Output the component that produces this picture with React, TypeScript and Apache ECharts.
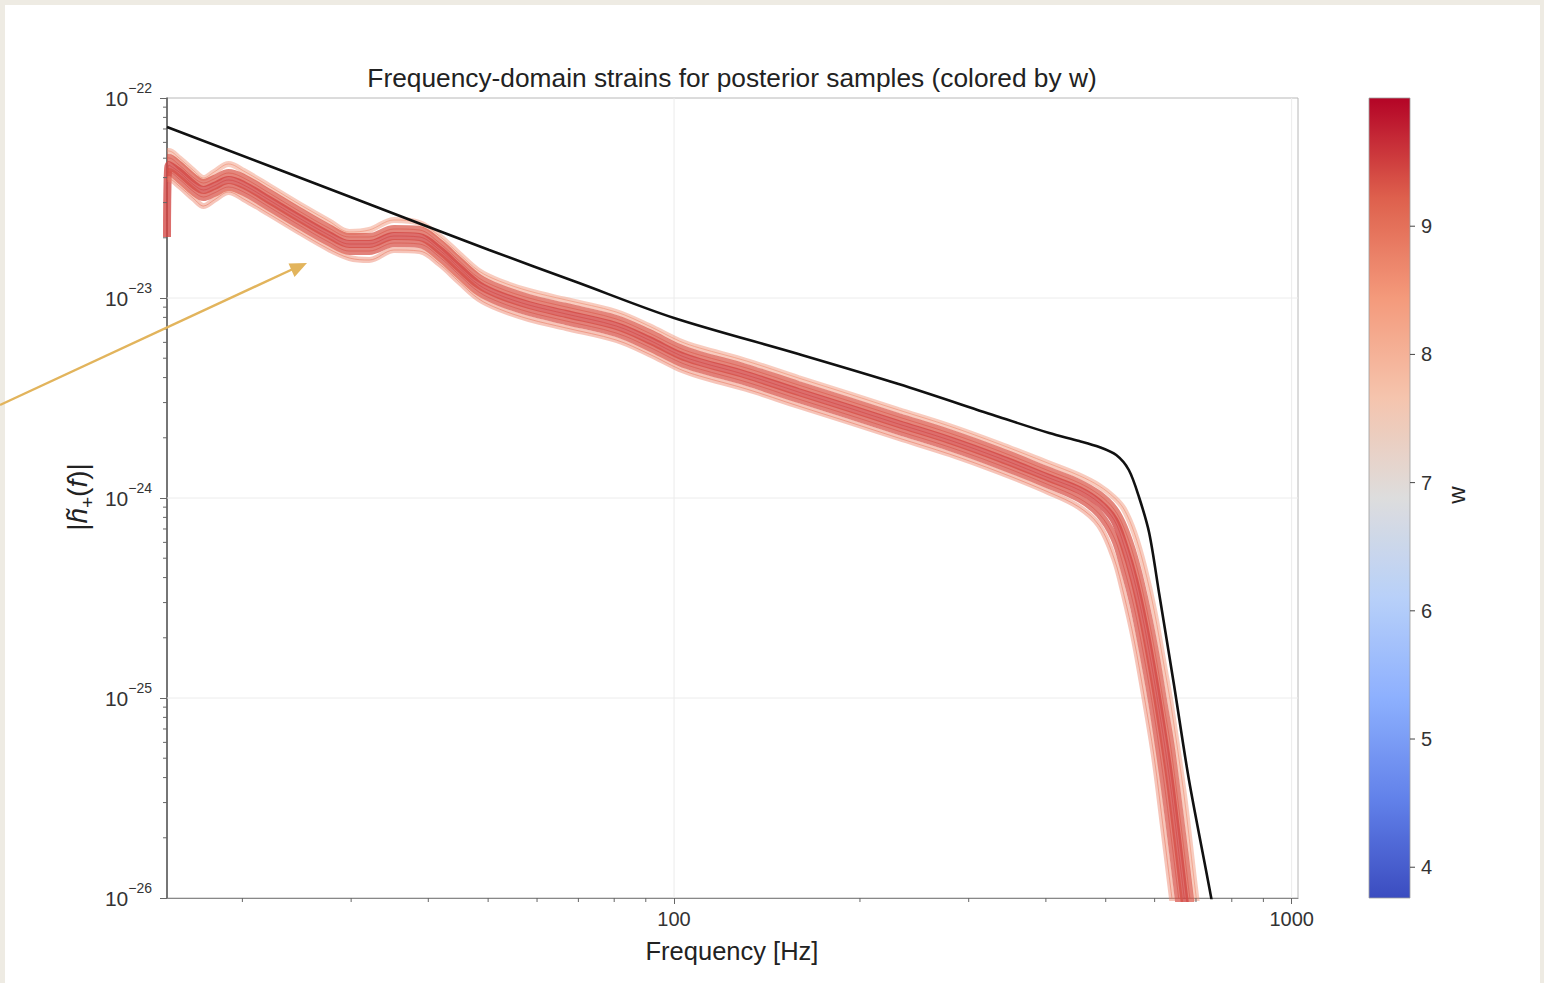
import React, { useEffect, useRef } from 'react';
import * as echarts from 'echarts';

// Shared frequency grid (Hz) for the posterior sample curves
const FREQ_HZ = [15.1, 15.2, 15.8, 16.7, 17.3, 18.0, 19.0, 20.1, 22.1, 24.7, 27.6, 29.8, 32.1, 35.2, 38.7, 41.7, 44.9, 48.3, 52.1, 58.2, 66.9, 80.6, 91.1, 102, 110, 131, 159, 192, 231, 279, 336, 405, 453, 488, 516, 535, 556, 577, 599, 621, 638, 670, 695, 749];

// log10 |h+(f)| of individual posterior samples
const SAMPLE_A = [-22.265, -22.265, -22.30, -22.365, -22.40, -22.37, -22.33, -22.365, -22.44, -22.53, -22.615, -22.67, -22.66, -22.61, -22.625, -22.69, -22.78, -22.865, -22.915, -22.965, -23.01, -23.07, -23.14, -23.215, -23.25, -23.315, -23.40, -23.48, -23.56, -23.64, -23.73, -23.828, -23.888, -23.94, -23.998, -24.055, -24.173, -24.343, -24.563, -24.833, -25.04, -25.493, -25.909, -26.729];
const SAMPLE_B = [-22.30, -22.30, -22.335, -22.40, -22.425, -22.405, -22.375, -22.40, -22.475, -22.565, -22.65, -22.695, -22.695, -22.655, -22.66, -22.725, -22.815, -22.90, -22.95, -23.00, -23.045, -23.105, -23.175, -23.25, -23.285, -23.35, -23.435, -23.515, -23.595, -23.675, -23.765, -23.865, -23.925, -23.984, -24.057, -24.148, -24.298, -24.498, -24.748, -25.035, -25.257, -25.768, -26.18, -27.0];
const SAMPLE_C = [-22.695, -22.335, -22.37, -22.435, -22.46, -22.44, -22.41, -22.435, -22.51, -22.60, -22.685, -22.73, -22.73, -22.69, -22.695, -22.76, -22.85, -22.935, -22.985, -23.035, -23.08, -23.14, -23.21, -23.285, -23.32, -23.385, -23.47, -23.55, -23.63, -23.71, -23.80, -23.90, -23.96, -24.025, -24.11, -24.235, -24.41, -24.635, -24.91, -25.21, -25.46, -26.0, -26.41, -27.23];
const SAMPLE_D = [-22.37, -22.37, -22.405, -22.47, -22.495, -22.475, -22.445, -22.47, -22.545, -22.635, -22.72, -22.765, -22.765, -22.725, -22.73, -22.795, -22.885, -22.97, -23.02, -23.07, -23.115, -23.175, -23.245, -23.32, -23.355, -23.42, -23.505, -23.585, -23.665, -23.745, -23.835, -23.935, -24.002, -24.079, -24.198, -24.348, -24.548, -24.798, -25.085, -25.414, -25.693, -26.23, -26.64, -27.46];
const SAMPLE_E = [-22.405, -22.405, -22.44, -22.505, -22.54, -22.51, -22.47, -22.505, -22.58, -22.67, -22.755, -22.80, -22.81, -22.76, -22.765, -22.83, -22.92, -23.005, -23.055, -23.105, -23.15, -23.21, -23.28, -23.355, -23.39, -23.455, -23.54, -23.62, -23.70, -23.78, -23.87, -23.972, -24.046, -24.138, -24.303, -24.483, -24.713, -24.99, -25.296, -25.676, -25.967, -26.501, -26.911, -27.731];

// w value of each sample (drives its colour)
const SAMPLE_W = [8.6, 9.3, 9.45, 9.35, 8.8];

// Reference waveform (black curve)
const REF_FREQ_HZ = [15.1, 30, 50.2, 70, 100, 159, 231, 336, 405, 453, 488, 520, 545, 566, 588, 610, 645, 682, 741, 792];
const REF_LOG_STRAIN = [-22.145, -22.496, -22.76, -22.924, -23.10, -23.28, -23.43, -23.595, -23.675, -23.715, -23.745, -23.785, -23.86, -23.995, -24.175, -24.475, -24.935, -25.41, -26.0, -26.51];

// Axis definitions (both axes are logarithmic; plotted in log10 units)
const X_MIN_HZ = 15.1;
const X_MAX_HZ = 1024;
const X_MAJOR_HZ = [100, 1000];
const X_MINOR_HZ = [20, 30, 40, 50, 60, 70, 80, 90, 200, 300, 400, 500, 600, 700, 800, 900];
const Y_MIN_EXP = -26;
const Y_MAX_EXP = -22;
const Y_DECADES = [-26, -25, -24, -23];
const Y_MINOR_MULTIPLIERS = [2, 3, 4, 5, 6, 7, 8, 9];
const Y_GRID_EXP = [-25, -24, -23];
const W_TICKS = [4, 5, 6, 7, 8, 9];
const W_MIN = 3.76;
const W_MAX = 10.0;

// coolwarm colour map, evenly spaced stops
const COOLWARM = ['#3b4cc0', '#6282ea', '#8db0fe', '#b8d0f9', '#dddddd', '#f5c4ad', '#f49a7b', '#de604d', '#b40426'];

const FONT = '"Liberation Sans", Arial, Helvetica, sans-serif';
const lg = (v: number) => Math.log10(v);

function wColor(w: number): string {
  const t = Math.min(1, Math.max(0, (w - W_MIN) / (W_MAX - W_MIN)));
  return echarts.color.lerp(t, COOLWARM) as string;
}

export default function App() {
  const ref = useRef<HTMLDivElement>(null);

  useEffect(() => {
    if (!ref.current) return;
    const chart = echarts.init(ref.current, undefined, { renderer: 'svg' });

    const samples = [SAMPLE_A, SAMPLE_B, SAMPLE_C, SAMPLE_D, SAMPLE_E];
    const toPoints = (freqs: number[], logs: number[]) => freqs.map((f, i) => [lg(f), logs[i]]);

    const xMin = lg(X_MIN_HZ);
    const xMax = lg(X_MAX_HZ);

    // wide translucent strokes build the band, thin strokes give it texture
    const wide = [
      { width: 6, opacity: 0.45 },
      { width: 8, opacity: 0.72 },
      { width: 8, opacity: 0.78 },
      { width: 8, opacity: 0.72 },
      { width: 6, opacity: 0.45 },
    ];
    const bandSeries: any[] = [];
    samples.forEach((s, k) => {
      const color = wColor(SAMPLE_W[k]);
      bandSeries.push({
        type: 'line',
        data: toPoints(FREQ_HZ, s),
        showSymbol: false,
        symbol: 'none',
        smooth: 0.35,
        silent: true,
        z: 3,
        lineStyle: { color, width: wide[k].width, opacity: wide[k].opacity },
      });
      bandSeries.push({
        type: 'line',
        data: toPoints(FREQ_HZ, s),
        showSymbol: false,
        symbol: 'none',
        smooth: 0.35,
        silent: true,
        z: 4,
        lineStyle: { color, width: 1, opacity: 0.6 },
      });
    });

    const yMinorData: number[][] = [];
    Y_DECADES.forEach((d) => {
      Y_MINOR_MULTIPLIERS.forEach((m) => yMinorData.push([xMin, d + lg(m)]));
    });

    const gradientStops = Array.from({ length: 41 }, (_, i) => ({
      offset: i / 40,
      color: echarts.color.lerp(1 - i / 40, COOLWARM) as string,
    }));

    const tickStyle = { stroke: '#666', lineWidth: 1 };
    const gridStyle = { stroke: '#ececec', lineWidth: 1 };

    const option: any = {
      animation: false,
      backgroundColor: 'transparent',
      textStyle: { fontFamily: FONT },
      grid: [
        { left: 167, top: 98, width: 1131, height: 800, show: true, borderColor: '#b8b8b8', borderWidth: 1, backgroundColor: 'transparent' },
        { left: 1369, top: 98, width: 41, height: 800 },
      ],
      xAxis: [
        {
          type: 'value',
          gridIndex: 0,
          min: xMin,
          max: xMax,
          axisLine: { show: true, lineStyle: { color: '#888', width: 1.2 } },
          axisTick: { show: true, length: 6, customValues: X_MAJOR_HZ.map(lg), lineStyle: { color: '#666', width: 1 } },
          axisLabel: {
            show: true,
            fontSize: 20,
            color: '#333',
            margin: 11,
            fontFamily: FONT,
            customValues: X_MAJOR_HZ.map(lg),
            formatter: (v: number) => String(Math.round(Math.pow(10, v))),
          },
          splitLine: { show: false },
        },
        { type: 'value', gridIndex: 1, min: 0, max: 1, show: false },
      ],
      yAxis: [
        {
          type: 'value',
          gridIndex: 0,
          min: Y_MIN_EXP,
          max: Y_MAX_EXP,
          interval: 1,
          axisLine: { show: true, lineStyle: { color: '#555', width: 1.5 } },
          axisTick: { show: true, length: 7, lineStyle: { color: '#666', width: 1 } },
          axisLabel: {
            show: true,
            margin: 15,
            color: '#333',
            fontFamily: FONT,
            formatter: (v: number) => '{b|10}{s|\u2212' + Math.abs(Math.round(v)) + '}',
            rich: {
              b: { fontSize: 21, lineHeight: 34, color: '#333', fontFamily: FONT },
              s: { fontSize: 14, lineHeight: 15, verticalAlign: 'top', color: '#333', fontFamily: FONT },
            },
          },
          splitLine: { show: false },
        },
        {
          type: 'value',
          gridIndex: 1,
          min: W_MIN,
          max: W_MAX,
          position: 'right',
          axisLine: { show: false },
          axisTick: { show: false },
          axisLabel: { show: true, fontSize: 20, color: '#333', margin: 11, fontFamily: FONT, customValues: W_TICKS },
          splitLine: { show: false },
        },
      ],
      series: [
        // faint major grid lines
        {
          type: 'custom',
          silent: true,
          z: 1,
          data: X_MAJOR_HZ.map((f) => [lg(f), Y_MIN_EXP]),
          renderItem: (_p: any, api: any) => {
            const a = api.coord([api.value(0), Y_MIN_EXP]);
            const b = api.coord([api.value(0), Y_MAX_EXP]);
            return { type: 'line', shape: { x1: a[0], y1: a[1], x2: b[0], y2: b[1] }, style: gridStyle };
          },
        },
        {
          type: 'custom',
          silent: true,
          z: 1,
          data: Y_GRID_EXP.map((e) => [xMin, e]),
          renderItem: (_p: any, api: any) => {
            const a = api.coord([xMin, api.value(1)]);
            const b = api.coord([xMax, api.value(1)]);
            return { type: 'line', shape: { x1: a[0], y1: a[1], x2: b[0], y2: b[1] }, style: gridStyle };
          },
        },
        ...bandSeries,
        {
          type: 'line',
          data: toPoints(REF_FREQ_HZ, REF_LOG_STRAIN),
          showSymbol: false,
          symbol: 'none',
          smooth: 0.3,
          silent: true,
          z: 6,
          lineStyle: { color: '#111', width: 2.6 },
        },
        // minor ticks of the log axes
        {
          type: 'custom',
          silent: true,
          clip: false,
          z: 5,
          data: X_MINOR_HZ.map((f) => [lg(f), Y_MIN_EXP]),
          renderItem: (_p: any, api: any) => {
            const pt = api.coord([api.value(0), api.value(1)]);
            return { type: 'line', shape: { x1: pt[0], y1: pt[1], x2: pt[0], y2: pt[1] + 4 }, style: tickStyle };
          },
        },
        {
          type: 'custom',
          silent: true,
          clip: false,
          z: 5,
          data: yMinorData,
          renderItem: (_p: any, api: any) => {
            const pt = api.coord([api.value(0), api.value(1)]);
            return { type: 'line', shape: { x1: pt[0], y1: pt[1], x2: pt[0] - 4, y2: pt[1] }, style: tickStyle };
          },
        },
        // colour bar and its ticks
        {
          type: 'custom',
          xAxisIndex: 1,
          yAxisIndex: 1,
          silent: true,
          clip: false,
          data: [[0, W_MIN]],
          renderItem: (_p: any, api: any) => {
            const p0 = api.coord([0, W_MAX]);
            const p1 = api.coord([1, W_MIN]);
            return {
              type: 'rect',
              shape: { x: p0[0], y: p0[1], width: p1[0] - p0[0], height: p1[1] - p0[1] },
              style: { fill: new echarts.graphic.LinearGradient(0, 0, 0, 1, gradientStops), stroke: '#a0a0a0', lineWidth: 0.8 },
            };
          },
        },
        {
          type: 'custom',
          xAxisIndex: 1,
          yAxisIndex: 1,
          silent: true,
          clip: false,
          z: 5,
          data: W_TICKS.map((w) => [1, w]),
          renderItem: (_p: any, api: any) => {
            const pt = api.coord([1, api.value(1)]);
            return { type: 'line', shape: { x1: pt[0], y1: pt[1], x2: pt[0] + 5, y2: pt[1] }, style: { stroke: '#444', lineWidth: 1 } };
          },
        },
      ],
      graphic: [
        {
          type: 'text',
          x: 732,
          y: 78,
          silent: true,
          style: { text: 'Frequency-domain strains for posterior samples (colored by w)', font: '26.3px ' + FONT, fill: '#222', align: 'center', verticalAlign: 'middle' },
        },
        {
          type: 'text',
          x: 732,
          y: 951,
          silent: true,
          style: { text: 'Frequency [Hz]', font: '25.5px ' + FONT, fill: '#222', align: 'center', verticalAlign: 'middle' },
        },
        {
          type: 'text',
          x: 77,
          y: 497,
          rotation: Math.PI / 2,
          silent: true,
          style: {
            text: '{n||}{i|h\u0303}{sub|+}{n|(}{i|f}{n|)|}',
            align: 'center',
            verticalAlign: 'middle',
            fill: '#222',
            rich: {
              n: { fontSize: 28, lineHeight: 40, fontFamily: FONT, fill: '#222' },
              i: { fontSize: 28, lineHeight: 40, fontStyle: 'italic', fontFamily: FONT, fill: '#222' },
              sub: { fontSize: 19, lineHeight: 19, verticalAlign: 'bottom', fontFamily: FONT, fill: '#222' },
            },
          },
        },
        {
          type: 'text',
          x: 1456,
          y: 495,
          rotation: Math.PI / 2,
          silent: true,
          style: { text: 'w', font: '24px ' + FONT, fill: '#222', align: 'center', verticalAlign: 'middle' },
        },
        {
          type: 'polyline',
          silent: true,
          z: 100,
          shape: { points: [[0, 405], [293, 269]] },
          style: { stroke: '#e2b45c', lineWidth: 2.4 },
        },
        {
          type: 'polygon',
          silent: true,
          z: 100,
          shape: { points: [[307, 263], [294.5, 277], [288.5, 263.5]] },
          style: { fill: '#e2b45c' },
        },
      ],
    };

    chart.setOption(option);
    return () => chart.dispose();
  }, []);

  return (
    <div style={{ position: 'fixed', left: 0, top: 0, width: 1544, height: 983, background: '#eeebe3', overflow: 'hidden' }}>
      <div style={{ position: 'absolute', left: 5, top: 5, width: 1535, height: 978, background: '#ffffff' }} />
      <div ref={ref} style={{ position: 'absolute', left: 0, top: 0, width: 1544, height: 983 }} />
    </div>
  );
}
